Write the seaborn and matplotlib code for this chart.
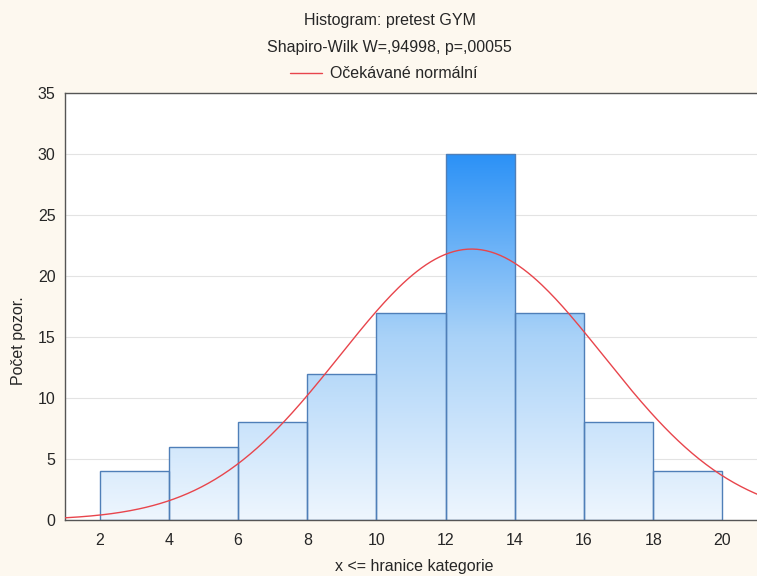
import numpy as np
import matplotlib
matplotlib.use("Agg")
import matplotlib.pyplot as plt
import seaborn as sns
from matplotlib.colors import LinearSegmentedColormap

# data
bin_edges = [2, 4, 6, 8, 10, 12, 14, 16, 18, 20]
counts = [4, 6, 8, 12, 17, 30, 17, 8, 4]
# expected normal curve (fit parameters)
norm_mean = 12.75
norm_sd = 3.81

sns.set_style("white")
plt.rcParams['font.family'] = ['Liberation Sans', 'DejaVu Sans']

fig = plt.figure(figsize=(7.57, 5.76), dpi=100, facecolor='#fdf8ef')
ax = fig.add_axes([0.086, 0.097, 0.914, 0.742])
ax.set_facecolor('white')

centers = [(a + b) / 2 for a, b in zip(bin_edges[:-1], bin_edges[1:])]
sns.histplot(x=centers, weights=counts, bins=bin_edges, ax=ax,
             color='#9cc8f3', edgecolor='#4f7fb8', linewidth=1.0, alpha=1)

# gradient fill: light near 0, darker blue up top
cmap = LinearSegmentedColormap.from_list('g', ['#eef6fe', '#a9d2f8', '#2b91f6'])
grad = np.linspace(0, 1, 256).reshape(-1, 1)
for p in ax.patches:
    im = ax.imshow(grad, extent=[1, 21, 0, 30], origin='lower', cmap=cmap,
                   aspect='auto', zorder=p.get_zorder() + 0.1)
    im.set_clip_path(p)
    p.set_facecolor('none')
    p.set_zorder(p.get_zorder() + 0.2)

xs = np.linspace(1, 21, 300)
bw = bin_edges[1] - bin_edges[0]
ys = sum(counts) * bw * np.exp(-0.5 * ((xs - norm_mean) / norm_sd) ** 2) / (norm_sd * np.sqrt(2 * np.pi))
sns.lineplot(x=xs, y=ys, ax=ax, color='#e8454c', linewidth=1.0, zorder=5,
             label='Očekávané normální')

fs = 11.5
ax.set_xlim(1, 21)
ax.set_ylim(0, 35)
ax.set_xticks(bin_edges)
ax.set_yticks(range(0, 36, 5))
ax.yaxis.grid(True, color='#e3e3e3', linewidth=0.8)
ax.set_axisbelow(True)
for s in ['left', 'bottom', 'top']:
    ax.spines[s].set_color('#555555')
    ax.spines[s].set_linewidth(1.0)
ax.spines['right'].set_visible(False)
ax.tick_params(axis='y', length=4, width=0.8, color='#555555', labelsize=fs, pad=3)
ax.tick_params(axis='x', length=0, labelsize=fs, pad=9)
ax.set_xlabel('x <= hranice kategorie', fontsize=fs)
ax.set_ylabel('Počet pozor.', fontsize=fs)
ax.xaxis.set_label_coords(0.505, -0.092)
ax.yaxis.set_label_coords(-0.056, 0.42)

fig.text(0.515, 0.965, 'Histogram: pretest GYM', ha='center', va='center', fontsize=fs)
fig.text(0.515, 0.918, 'Shapiro-Wilk W=,94998, p=,00055', ha='center', va='center', fontsize=fs)
ax.legend(loc='center', bbox_to_anchor=(0.46, 1.044), frameon=False, fontsize=fs,
          handlelength=2.0, handletextpad=0.5)

fig.savefig('out.png', dpi=100, facecolor=fig.get_facecolor())
